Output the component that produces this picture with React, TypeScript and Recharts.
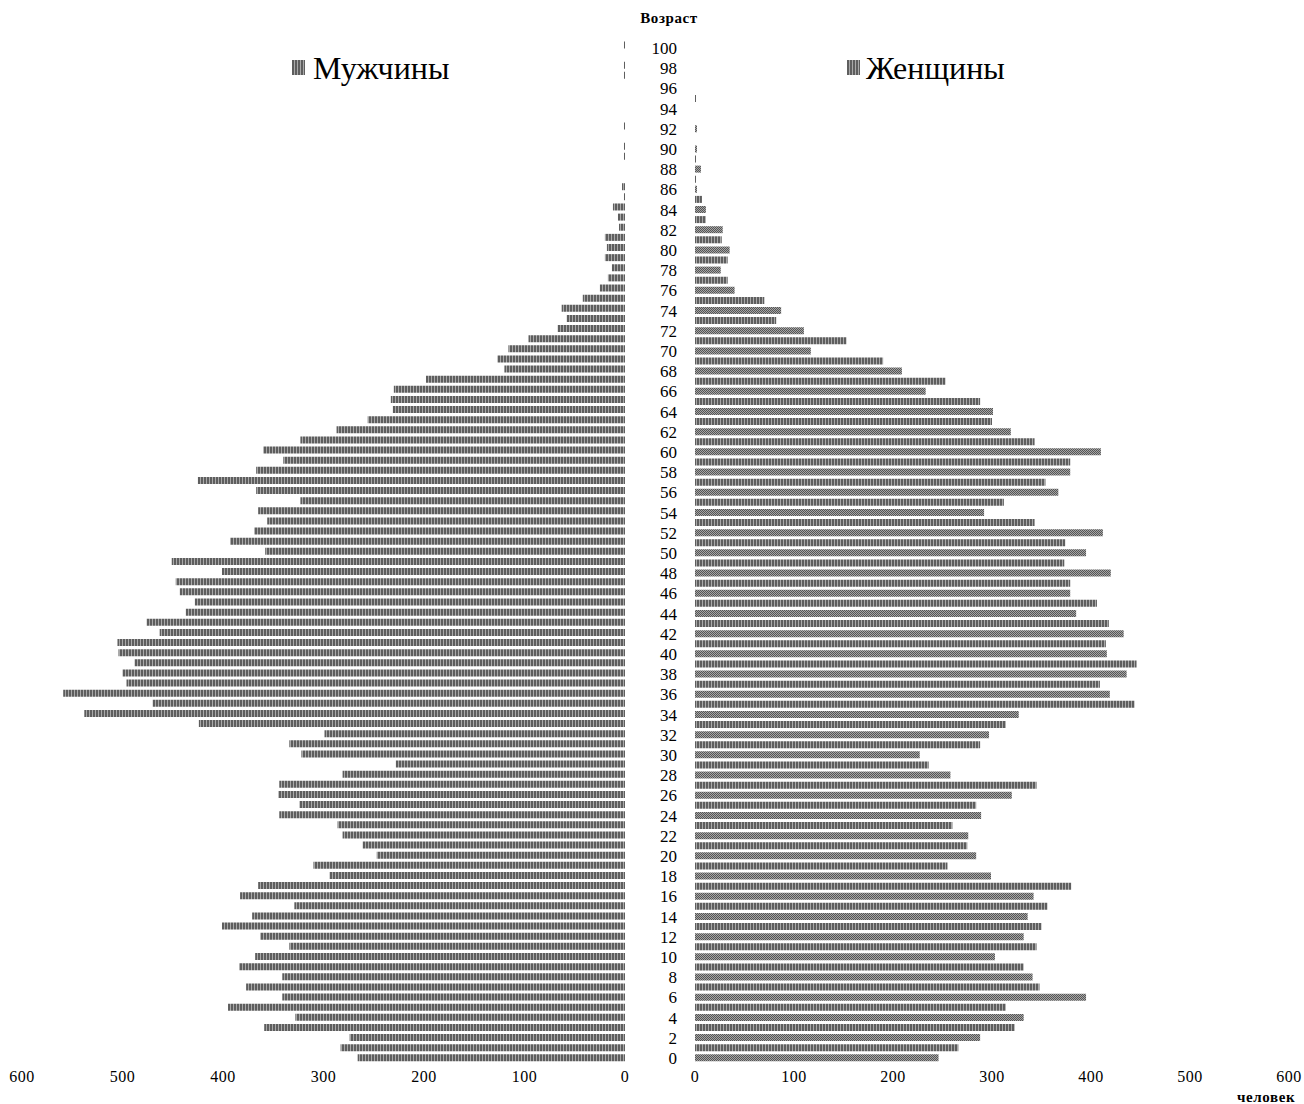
import React from 'react';
import { BarChart, Bar, XAxis, YAxis, Cell } from 'recharts';

const ages = [
  0, 1, 2, 3, 4, 5, 6, 7, 8, 9, 10, 11, 12, 13, 14, 15, 16, 17, 18, 19, 20,
  21, 22, 23, 24, 25, 26, 27, 28, 29, 30, 31, 32, 33, 34, 35, 36, 37, 38, 39, 40,
  41, 42, 43, 44, 45, 46, 47, 48, 49, 50, 51, 52, 53, 54, 55, 56, 57, 58, 59, 60,
  61, 62, 63, 64, 65, 66, 67, 68, 69, 70, 71, 72, 73, 74, 75, 76, 77, 78, 79, 80,
  81, 82, 83, 84, 85, 86, 87, 88, 89, 90, 91, 92, 93, 94, 95, 96, 97, 98, 99, 100,
];

const menValues = [
  266, 283, 274, 359, 328, 395, 341, 377, 341, 384, 368, 334, 363, 401, 371, 329, 383, 365, 294, 310, 247,
  261, 281, 286, 344, 324, 345, 344, 281, 228, 322, 334, 299, 424, 538, 470, 559, 496, 500, 488, 504,
  505, 463, 476, 437, 428, 443, 447, 401, 451, 358, 393, 369, 356, 365, 323, 367, 425, 367, 340, 360,
  323, 287, 256, 231, 233, 230, 198, 120, 127, 116, 96, 67, 58, 63, 42, 25, 17, 13, 20, 18,
  20, 6, 7, 12, 1, 3, 0, 0, 1, 1, 0, 1, 0, 0, 0, 0, 1, 1, 0, 1,
];

const womenValues = [
  246, 266, 288, 323, 332, 314, 395, 348, 341, 332, 303, 345, 332, 350, 336, 356, 342, 380, 299, 255, 284,
  275, 276, 260, 289, 284, 320, 345, 258, 236, 227, 288, 297, 314, 327, 444, 419, 409, 436, 446, 416,
  415, 433, 418, 385, 406, 379, 379, 420, 373, 395, 374, 412, 343, 292, 312, 367, 354, 379, 379, 410,
  343, 319, 300, 301, 288, 233, 253, 209, 190, 117, 153, 110, 82, 87, 70, 40, 33, 26, 33, 35,
  27, 28, 11, 11, 7, 2, 1, 6, 1, 2, 0, 2, 0, 0, 1, 0, 0, 0, 0, 0,
];

const xTicks = [0, 100, 200, 300, 400, 500, 600];

const data = ages.map((age, i) => ({ age, men: menValues[i], women: womenValues[i] }));

const FONT = '"Liberation Serif", "Times New Roman", serif';

const XTick = (props: any) => {
  const { x, y, payload } = props;
  return (
    <text
      x={x}
      y={y}
      dy="0.71em"
      textAnchor="middle"
      fill="#000"
      style={{ fontFamily: FONT, fontSize: 16, letterSpacing: 0.5 }}
    >
      {payload.value}
    </text>
  );
};

const YTick = (props: any) => {
  const { x, y, payload } = props;
  return (
    <text
      x={x}
      y={y}
      dy="0.355em"
      textAnchor="end"
      fill="#000"
      style={{ fontFamily: FONT, fontSize: 17 }}
    >
      {payload.value}
    </text>
  );
};

const Patterns = () => (
  <defs>
    <pattern id="stripes" patternUnits="userSpaceOnUse" width="3" height="4">
      <rect x="0" y="0" width="3" height="4" fill="#a9a9a9" />
      <rect x="0" y="0" width="2" height="4" fill="#5e5e5e" />
    </pattern>
    <pattern id="checker" patternUnits="userSpaceOnUse" width="2" height="2">
      <rect x="0" y="0" width="2" height="2" fill="#a5a5a5" />
      <rect x="0" y="0" width="1" height="1" fill="#555555" />
      <rect x="1" y="1" width="1" height="1" fill="#555555" />
    </pattern>
  </defs>
);

const legendSquare: React.CSSProperties = {
  position: 'absolute',
  width: 13,
  height: 15,
  background: 'repeating-linear-gradient(90deg, #5e5e5e 0px, #5e5e5e 2px, #a9a9a9 2px, #a9a9a9 3px)',
};

export default function App() {
  return (
    <div
      style={{
        position: 'absolute',
        left: 0,
        top: 0,
        width: 1304,
        height: 1104,
        background: '#fff',
        fontFamily: FONT,
        overflow: 'hidden',
      }}
    >
      <div style={{ position: 'absolute', left: 0, top: 0 }}>
        <BarChart
          width={640}
          height={1104}
          data={data}
          layout="vertical"
          margin={{ top: 40, right: 15, bottom: 11, left: 22 }}
          barCategoryGap="14%"
        >
          <Patterns />
          <XAxis
            type="number"
            domain={[0, 600]}
            ticks={xTicks}
            reversed
            interval={0}
            axisLine={false}
            tickLine={false}
            height={30}
            tick={<XTick />}
          />
          <YAxis type="category" dataKey="age" reversed hide width={0} />
          <Bar dataKey="men" fill="url(#stripes)" isAnimationActive={false} />
        </BarChart>
      </div>

      <div style={{ position: 'absolute', left: 640, top: 0 }}>
        <BarChart
          width={664}
          height={1104}
          data={data}
          layout="vertical"
          margin={{ top: 43, right: 15, bottom: 11, left: 0 }}
          barCategoryGap="14%"
        >
          <Patterns />
          <XAxis
            type="number"
            domain={[0, 600]}
            ticks={xTicks}
            interval={0}
            axisLine={false}
            tickLine={false}
            height={30}
            tick={<XTick />}
          />
          <YAxis
            type="category"
            dataKey="age"
            reversed
            width={55}
            interval={1}
            axisLine={false}
            tickLine={false}
            tickMargin={12}
            tick={<YTick />}
          />
          <Bar dataKey="women" isAnimationActive={false}>
            {data.map((d) => (
              <Cell key={d.age} fill={d.age % 2 === 0 ? 'url(#checker)' : 'url(#stripes)'} />
            ))}
          </Bar>
        </BarChart>
      </div>

      <div
        style={{
          position: 'absolute',
          left: 619,
          width: 100,
          top: 8,
          textAlign: 'center',
          fontSize: 15,
          fontWeight: 'bold',
          letterSpacing: 0.6,
          lineHeight: '20px',
        }}
      >
        Возраст
      </div>

      <div style={{ ...legendSquare, left: 292, top: 60 }} />
      <div style={{ position: 'absolute', left: 313, top: 52, fontSize: 32, lineHeight: '32px' }}>Мужчины</div>

      <div style={{ ...legendSquare, left: 847, top: 60 }} />
      <div style={{ position: 'absolute', left: 866, top: 52, fontSize: 32, lineHeight: '32px' }}>Женщины</div>

      <div
        style={{
          position: 'absolute',
          left: 1237,
          top: 1087,
          fontSize: 15,
          fontWeight: 'bold',
          letterSpacing: 0.6,
          lineHeight: '20px',
        }}
      >
        человек
      </div>
    </div>
  );
}
